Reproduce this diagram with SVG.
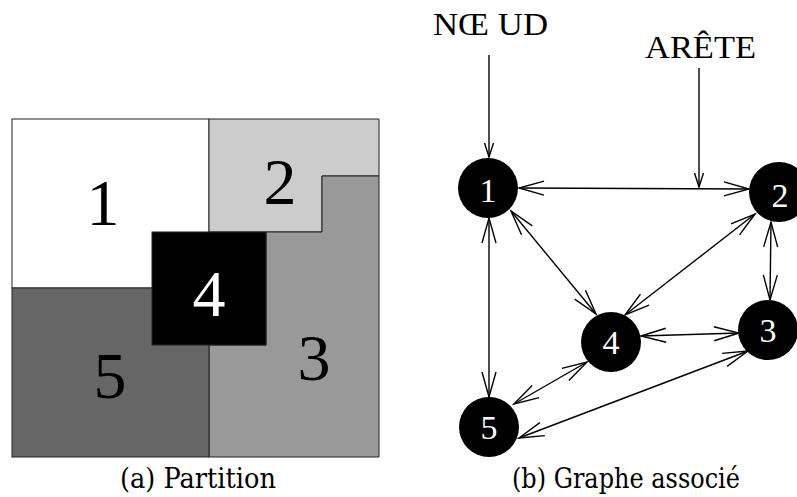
<svg xmlns="http://www.w3.org/2000/svg" width="797" height="497" viewBox="0 0 797 497" font-family="'Liberation Serif', 'DejaVu Serif', serif">
<style>
.reg{stroke:#222;stroke-width:1}
.big{font-size:66px;text-anchor:middle}
.lbl{font-size:34px;text-anchor:middle;fill:#fff}
.node{fill:#000}
.tag{font-size:32px}
.cap{font-size:27px}
.edge{stroke:#000;stroke-width:1.4;fill:none;marker-start:url(#ah);marker-end:url(#ah)}
.ptr{stroke:#000;stroke-width:1.4;fill:none;marker-end:url(#sm)}
</style>
<defs>
<marker id="ah" markerUnits="userSpaceOnUse" viewBox="-28 -10 30 20" markerWidth="30" markerHeight="20" refX="0" refY="0" orient="auto-start-reverse" overflow="visible">
<path d="M-25,-7 L0,0 L-25,7" fill="none" stroke="#000" stroke-width="1.4"/>
</marker>
<marker id="sm" markerUnits="userSpaceOnUse" viewBox="-16 -6 18 12" markerWidth="18" markerHeight="12" refX="0" refY="0" orient="auto" overflow="visible">
<path d="M-14,-4.5 L0,0 L-14,4.5" fill="none" stroke="#000" stroke-width="1.4"/>
</marker>
</defs>
<rect width="797" height="497" fill="#fff"/>
<g id="partition">
<g id="region1"><rect class="reg" x="12" y="119" width="197" height="169" fill="#fff"/><text class="big" x="103" y="225" font-family="Liberation Serif">1</text></g>
<g id="region2"><polygon class="reg" points="209,119 379,119 379,176 322,176 322,232 209,232" fill="#ccc"/><text class="big" x="280" y="204" font-family="Liberation Serif">2</text></g>
<g id="region3"><polygon class="reg" points="322,176 379,176 379,457 209,457 209,345 266,345 266,232 322,232" fill="#999"/><text class="big" x="314" y="380" font-family="Liberation Serif">3</text></g>
<g id="region5"><rect class="reg" x="12" y="288" width="197" height="169" fill="#666"/><text class="big" x="110" y="398" font-family="Liberation Serif">5</text></g>
<g id="region4"><rect class="reg" x="152" y="232" width="114" height="113" fill="#000"/><text class="big" x="209" y="316" fill="#fff" font-family="Liberation Serif">4</text></g>
</g>
<g id="connectors">
<line class="edge" x1="519" y1="188" x2="749" y2="189"/>
<line class="edge" x1="511" y1="211" x2="596" y2="314"/>
<line class="edge" x1="489" y1="218" x2="489" y2="397"/>
<line class="edge" x1="755" y1="214" x2="625" y2="315"/>
<line class="edge" x1="771" y1="222" x2="770" y2="300"/>
<line class="edge" x1="641" y1="336" x2="739" y2="333"/>
<line class="edge" x1="587" y1="362" x2="514" y2="404"/>
<line class="edge" x1="519" y1="438" x2="748" y2="351"/>
<line class="ptr" x1="489" y1="55" x2="489" y2="157"/>
<line class="ptr" x1="699" y1="68" x2="699" y2="187"/>
</g>
<g id="n1"><circle class="node" cx="488" cy="188" r="30"/><text class="lbl" x="488" y="202" font-family="Liberation Serif">1</text></g>
<g id="n2"><circle class="node" cx="779" cy="192" r="30"/><text class="lbl" x="780" y="207" font-family="Liberation Serif">2</text></g>
<g id="n3"><circle class="node" cx="768" cy="330" r="30"/><text class="lbl" x="768" y="342" font-family="Liberation Serif">3</text></g>
<g id="n4"><circle class="node" cx="611" cy="342" r="30"/><text class="lbl" x="611" y="354" font-family="Liberation Serif">4</text></g>
<g id="n5"><circle class="node" cx="489" cy="427" r="30"/><text class="lbl" x="489" y="439" font-family="Liberation Serif">5</text></g>
<g id="labels">
<text class="tag" x="433" y="35" textLength="115" lengthAdjust="spacingAndGlyphs" font-family="Liberation Serif">NŒ UD</text>
<text class="tag" x="645" y="58" textLength="111" lengthAdjust="spacingAndGlyphs" font-family="Liberation Serif">ARÊTE</text>
<text class="cap" x="120" y="488" textLength="156" lengthAdjust="spacingAndGlyphs" font-family="DejaVu Serif">(a) Partition</text>
<text class="cap" x="512" y="488" textLength="228" lengthAdjust="spacingAndGlyphs" font-family="DejaVu Serif">(b) Graphe associé</text>
</g>
</svg>
